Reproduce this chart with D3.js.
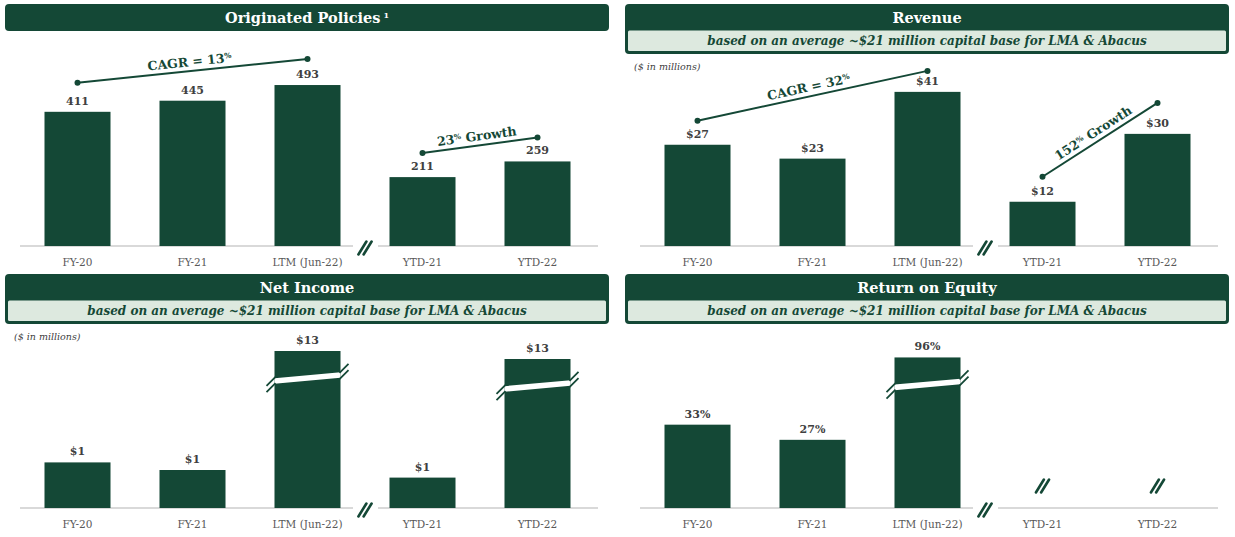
<!DOCTYPE html>
<html><head><meta charset="utf-8">
<script src="https://cdn.jsdelivr.net/npm/d3@7"></script>
<style>html,body{margin:0;padding:0;background:#fff;} svg{display:block;}</style>
</head><body><svg id="chart" width="1235" height="537"></svg>
<script>
// ---------- data ----------
const categories = ["FY-20", "FY-21", "LTM (Jun-22)", "YTD-21", "YTD-22"];
const policiesValues = [411, 445, 493, 211, 259];
const revenueValues = [27.0, 23.3, 41.1, 11.8, 29.9];
const netIncomeValues = [1.2, 1.0, 13.4, 0.8, 12.6];
const roeValues = [33, 27, 96, null, null];
const netIncomeBroken = [false, false, true, false, true];
const roeBroken = [false, false, true, false, false];
const panelTitles = ["Originated Policies", "Revenue", "Net Income", "Return on Equity"];
const subtitleText = "based on an average ~$21 million capital base for LMA & Abacus";
const unitsText = "($ in millions)";
const policiesNotes = [{from: 0, to: 2, pre: "CAGR = 13", post: ""}, {from: 3, to: 4, pre: "23", post: " Growth"}];
const revenueNotes = [{from: 0, to: 2, pre: "CAGR = 32", post: ""}, {from: 3, to: 4, pre: "152", post: " Growth"}];

// ---------- style ----------
const GREEN = "#144836", LIGHT = "#dde9df", AXIS = "#d9d9d9";
const FONT = "Georgia, 'DejaVu Serif', serif";
const svg = d3.select("#chart");
svg.append("rect").attr("width", 1235).attr("height", 537).attr("fill", "#fff");

const fmtInt = d3.format("d"), fmt0 = d3.format(".0f");
const panels = [
  {title: panelTitles[0], sup: "1", sub: false, units: false, ox: 0, oy: 0, values: policiesValues,
   broken: [false,false,false,false,false], label: v => fmtInt(v),
   yDomain: [0, 500], yRange: [246, 82.75], notes: policiesNotes, gaps: [[29, 26], [24, 24]]},
  {title: panelTitles[1], sub: true, units: true, ox: 620, oy: 0, values: revenueValues,
   broken: [false,false,false,false,false], label: v => "$" + fmt0(v),
   yDomain: [0, 45], yRange: [246, 77.25], notes: revenueNotes, gaps: [[24, 21], [25, 31]]},
  {title: panelTitles[2], sub: true, units: true, ox: 0, oy: 270, values: netIncomeValues,
   broken: netIncomeBroken, label: v => "$" + fmt0(v),
   yDomain: [0, 2, 10, 14], yRange: [238, 162, 115, 75], notes: [], gaps: []},
  {title: panelTitles[3], sub: true, units: false, ox: 620, oy: 270, values: roeValues,
   broken: roeBroken, label: v => fmt0(v) + "%",
   yDomain: [0, 40, 100], yRange: [238, 137, 83.9], notes: [], gaps: []}
];

function slash(g, cx, cy) {
  [-2.6, 2.6].forEach(o => {
    g.append("line")
      .attr("x1", cx + o - 4).attr("y1", cy + 6.5)
      .attr("x2", cx + o + 4).attr("y2", cy - 6.5)
      .attr("stroke", GREEN).attr("stroke-width", 2.6).attr("stroke-linecap", "round");
  });
}

panels.forEach(p => {
  const g = svg.append("g").attr("transform", `translate(${p.ox},${p.oy})`);
  const headerH = p.sub ? 50 : 27;
  g.append("rect").attr("x", 5).attr("y", 4).attr("width", 604).attr("height", headerH)
    .attr("rx", 4).attr("fill", GREEN);
  const title = g.append("text").attr("x", 307).attr("y", 22.5).attr("text-anchor", "middle")
    .attr("font-family", FONT).attr("font-weight", "bold").attr("font-size", 14.5)
    .attr("fill", "#fff").text(p.title);
  if (p.sup) title.append("tspan").attr("font-size", 8).attr("dx", 3).attr("dy", -5).text(p.sup);
  if (p.sub) {
    g.append("rect").attr("x", 8).attr("y", 30.5).attr("width", 598).attr("height", 20.5)
      .attr("rx", 1.5).attr("fill", LIGHT);
    g.append("text").attr("x", 307).attr("y", 45).attr("text-anchor", "middle")
      .attr("font-family", FONT).attr("font-weight", "bold").attr("font-style", "italic")
      .attr("font-size", 12).attr("fill", GREEN).text(subtitleText);
  }
  if (p.units) {
    g.append("text").attr("x", 14).attr("y", 70).attr("font-family", FONT)
      .attr("font-style", "italic").attr("font-size", 9.5).attr("fill", "#404040").text(unitsText);
  }

  const x = d3.scaleBand().domain(categories).range([20, 595]).paddingInner(0.426).paddingOuter(0.213);
  const y = d3.scaleLinear().domain(p.yDomain).range(p.yRange);
  const base = y(0);
  const bw = x.bandwidth();

  const breakX = (x(categories[2]) + bw + x(categories[3])) / 2;
  [[20, breakX - 12], [breakX + 13, 598]].forEach(([a, b]) => {
    g.append("line").attr("x1", a).attr("x2", b).attr("y1", base).attr("y2", base)
      .attr("stroke", AXIS).attr("stroke-width", 2);
  });
  slash(g, breakX, base + 2);

  g.selectAll("text.cat").data(categories).join("text").attr("class", "cat")
    .attr("x", d => x(d) + bw / 2).attr("y", base + 20).attr("text-anchor", "middle")
    .attr("font-family", FONT).attr("font-size", 10.5).attr("fill", "#595959").text(d => d);

  const data = categories.map((c, i) => ({c, v: p.values[i], b: p.broken[i]}));
  const valid = data.filter(d => d.v != null);

  g.selectAll("rect.bar").data(valid).join("rect").attr("class", "bar")
    .attr("x", d => x(d.c)).attr("width", bw)
    .attr("y", d => y(d.v)).attr("height", d => base - y(d.v)).attr("fill", GREEN);

  g.selectAll("text.val").data(valid).join("text").attr("class", "val")
    .attr("x", d => x(d.c) + bw / 2).attr("y", d => y(d.v) - 7).attr("text-anchor", "middle")
    .attr("font-family", FONT).attr("font-weight", "bold").attr("font-size", 11)
    .attr("fill", "#404040").text(d => p.label(d.v));

  data.filter(d => d.v == null).forEach(d => slash(g, x(d.c) + bw / 2, base - 22));

  data.filter(d => d.b).forEach(d => {
    const x0 = x(d.c), x1 = x0 + bw, xm = (x0 + x1) / 2;
    const yc = y(d.v) + 27, s = 0.09, h = 2.8;
    const yAt = (xx, o) => yc - s * (xx - xm) + o;
    g.append("polygon").attr("fill", "#fff").attr("points",
      [[x0, yAt(x0, -h)], [x1, yAt(x1, -h)], [x1, yAt(x1, h)], [x0, yAt(x0, h)]].map(q => q.join(",")).join(" "));
    [-h - 0.4, h + 0.4].forEach(o => {
      const yl = yAt(x0, o), yr = yAt(x1, o);
      g.append("line").attr("x1", x0 - 8).attr("y1", yl + 8).attr("x2", x0 + 1).attr("y2", yl - 1)
        .attr("stroke", GREEN).attr("stroke-width", 1.8);
      g.append("line").attr("x1", x1 - 1).attr("y1", yr + 1).attr("x2", x1 + 8).attr("y2", yr - 8)
        .attr("stroke", GREEN).attr("stroke-width", 1.8);
    });
  });

  p.notes.forEach((n, i) => {
    const [g0, g1] = p.gaps[i];
    const x0 = x(categories[n.from]) + bw / 2, y0 = y(p.values[n.from]) - g0;
    const x1 = x(categories[n.to]) + bw / 2, y1 = y(p.values[n.to]) - g1;
    g.append("line").attr("x1", x0).attr("y1", y0).attr("x2", x1).attr("y2", y1)
      .attr("stroke", GREEN).attr("stroke-width", 2);
    [[x0, y0], [x1, y1]].forEach(([cx, cy]) => g.append("circle").attr("cx", cx).attr("cy", cy)
      .attr("r", 3).attr("fill", GREEN));
    const ang = Math.atan2(y1 - y0, x1 - x0) * 180 / Math.PI;
    const t = g.append("text")
      .attr("transform", `translate(${(x0 + x1) / 2},${(y0 + y1) / 2}) rotate(${ang})`)
      .attr("x", -2).attr("y", -5).attr("text-anchor", "middle")
      .attr("font-family", FONT).attr("font-weight", "bold").attr("font-size", 12.5).attr("fill", GREEN);
    t.append("tspan").text(n.pre);
    t.append("tspan").attr("font-size", 7.5).attr("dy", -4).text("%");
    t.append("tspan").attr("dy", 4).text(n.post);
  });
});
</script></body></html>
